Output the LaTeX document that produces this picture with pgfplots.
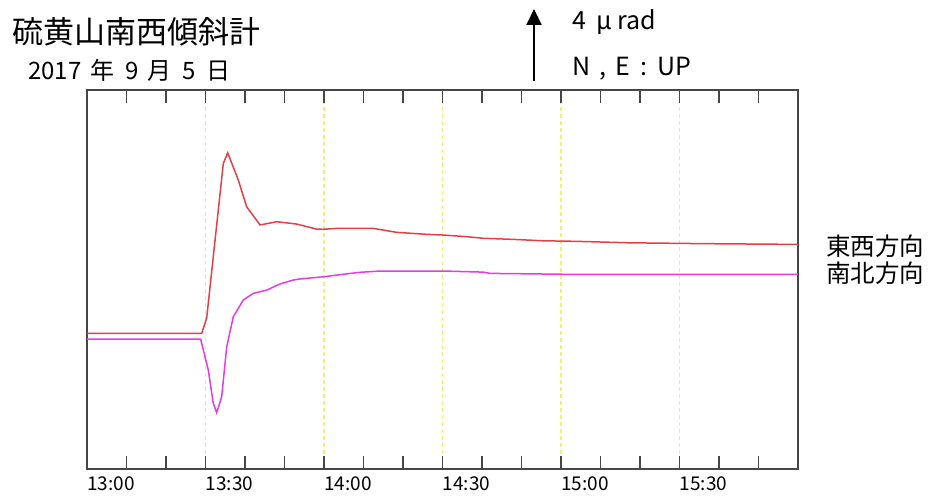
\documentclass[border=0pt]{standalone}
\usepackage{fontspec}
\setmainfont{Noto Sans CJK JP}
\newfontfamily\jp{Noto Sans CJK JP}
\usepackage{pgfplots}
\pgfplotsset{compat=1.18}
\usetikzlibrary{arrows.meta,calc}

\definecolor{ewred}{RGB}{226,64,72}
\definecolor{nsmag}{RGB}{228,60,230}
\definecolor{gridyel}{RGB}{240,240,120}
\definecolor{framegray}{RGB}{70,70,70}

% time in minutes after 13:00, tilt in micro-radians
\pgfplotstableread{
t     v
0     7.54
29.04 7.54
30.30 8.39
34.51 16.98
35.62 17.57
38.30 16.06
40.43 14.57
43.80 13.56
48.03 13.74
53.09 13.61
58.15 13.33
59.82 13.32
63.22 13.37
72.48 13.37
78.41 13.15
86.00 13.04
90.20 13.00
96.13 12.91
100.33 12.82
107.92 12.76
115.52 12.68
123.97 12.65
137.04 12.57
156.89 12.52
179.67 12.48
180    12.43
}\ewtable

\pgfplotstableread{
t     v
0     7.21
28.78 7.21
30.71 5.50
31.97 3.65
32.84 3.13
34.10 4.02
35.37 6.79
37.04 8.46
39.57 9.39
42.10 9.76
45.49 9.94
48.86 10.28
52.23 10.50
53.92 10.56
59.82 10.68
64.89 10.82
69.11 10.93
74.18 11.00
90.20 11.00
100.33 10.94
102.03 10.87
121.01 10.82
180    10.82
}\nstable

\begin{document}
\begin{tikzpicture}
\useasboundingbox (0pt,0pt) rectangle (933pt,500pt);

\begin{axis}[
  name=ax,
  at={(87pt,31pt)}, anchor=south west,
  scale only axis, width=711pt, height=379pt,
  xmin=0, xmax=180, ymin=0, ymax=21.06,
  axis line style={framegray, line width=1.4pt},
  xtick={0,30,...,150},
  xticklabels={\mbox{13:00},\mbox{13:30},\mbox{14:00},\mbox{14:30},\mbox{15:00},\mbox{15:30}},
  ytick=\empty,
  major tick length=0pt,
  xticklabel style={anchor=north west, inner sep=0pt, yshift=-8pt,
    font=\jp\fontsize{19}{19}\selectfont, text=black},
  clip=false,
]
% dashed half-hour guides
\pgfplotsinvokeforeach{30,60,90,120,150}{
  \draw[gridyel, line width=1.4pt, dash pattern=on 4pt off 3pt]
    (axis cs:#1,0.05) -- (axis cs:#1,21.0);
}
\addplot[ewred, line width=1.5pt] table[x=t, y=v] {\ewtable};
\addplot[nsmag, line width=1.5pt] table[x=t, y=v] {\nstable};
\end{axis}

% ten-minute tick marks along the top and bottom edges of the frame
\foreach \i in {1,...,17}{
  \fill[framegray]
    ($(ax.south west)!\i/18!(ax.south east) + (-0.8pt,0pt)$) rectangle ++(1.6pt,13pt);
  \fill[framegray]
    ($(ax.north west)!\i/18!(ax.north east) + (-0.8pt,0pt)$) rectangle ++(1.6pt,-13pt);
}

% title block
\node[anchor=west, inner sep=0pt, font=\fontsize{31}{31}\selectfont] at (12pt,468.5pt) {硫黄山南西傾斜計};
\node[anchor=west, inner sep=0pt, font=\fontsize{24}{24}\selectfont] at (28pt,430pt)
  {2017\hspace{9pt}年\hspace{11pt}9\hspace{9pt}月\hspace{11pt}5\hspace{10pt}日};

% scale arrow
\draw[black, line width=2pt, -{Triangle[length=16pt,width=15pt]}] (534pt,419pt) -- (534pt,491pt);
\node[anchor=west, inner sep=0pt, font=\fontsize{25}{25}\selectfont] at (572pt,478pt)
  {4\hspace{10pt}μ\hspace{6pt}rad};
\node[anchor=west, inner sep=0pt, font=\fontsize{25}{25}\selectfont] at (572pt,431pt)
  {N\hspace{9pt},\hspace{9pt}E\hspace{11pt}:\hspace{10pt}UP};

% component labels
\node[anchor=west, inner sep=0pt, font=\fontsize{24.5}{24.5}\selectfont] at (826pt,254pt) {東西方向};
\node[anchor=west, inner sep=0pt, font=\fontsize{24.5}{24.5}\selectfont] at (826pt,227pt) {南北方向};
\end{tikzpicture}
\end{document}
